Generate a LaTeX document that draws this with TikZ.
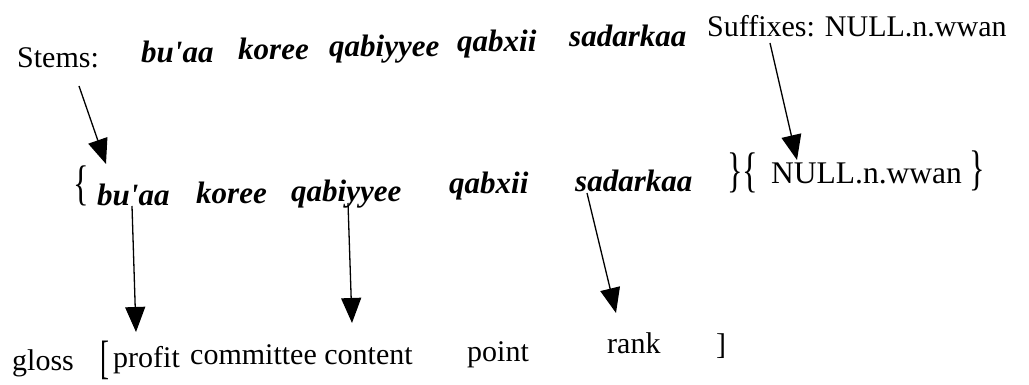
\documentclass[tikz,border=0pt]{standalone}
\usepackage{fontspec}
\setmainfont{Liberation Serif}
\usetikzlibrary{arrows.meta}
\newcommand{\apo}{\textquotesingle}
\newcommand{\tallbr}[1]{\scalebox{0.9}[1.35]{#1}}
\tikzset{
  rm/.style={anchor=base west, inner sep=0pt, font=\fontsize{30}{36}\selectfont},
  rmb/.style={anchor=base west, inner sep=0pt, font=\fontsize{31.5}{36}\selectfont},
  stem/.style={anchor=base west, inner sep=0pt, font=\fontsize{31}{36}\selectfont\bfseries\itshape},
  brk/.style={anchor=base west, inner sep=0pt, font=\fontsize{36}{42}\selectfont},
  arr/.style={line width=1.3pt, -{Triangle[length=25pt,width=20pt]}}
}
\begin{document}
\begin{tikzpicture}[x=1pt,y=-1pt]
\useasboundingbox (0,0) rectangle (1029,385);
% top row
\node[rm] (stems) at (17,68) {Stems:};
\node[stem] (t1) at (141,63) {bu\apo aa};
\node[stem] (t2) at (238,60) {koree};
\node[stem] (t3) at (329,57) {qabiyyee};
\node[stem] (t4) at (457,52) {qabxii};
\node[stem] (t5) at (569,47) {sadarkaa};
\node[rm] (suf) at (707,37) {Suffixes: NULL.n.wwan};
% middle row
\node[brk] (lb) at (73,200) {\tallbr{\{}};
\node[stem] (m1) at (97,206) {bu\apo aa};
\node[stem] (m2) at (196,204) {koree};
\node[stem] (m3) at (291,201) {qabiyyee};
\node[stem] (m4) at (449,194) {qabxii};
\node[stem] (m5) at (575,192) {sadarkaa};
\node[brk] (rb) at (727,187) {\tallbr{\}\{}};
\node[rmb] (null) at (771,184) {NULL.n.wwan};
\node[brk] (rb2) at (969,185) {\tallbr{\}}};
% bottom row
\node[rm] (gloss) at (12,370) {gloss};
\node[brk] (lsq) at (100,373) {\scalebox{0.75}[1.3]{[}};
\node[rm] (g1) at (113,367) {profit};
\node[rm] (g2) at (190,364) {committee content};
\node[rm] (g3) at (467,361) {point};
\node[rm] (g4) at (607,353) {rank};
\node[rm] (rsq) at (716,354) {]};
% arrow ends
\coordinate (a1s) at (79,86);   \coordinate (a1e) at (106,164);
\coordinate (a2s) at (770,43);  \coordinate (a2e) at (797,160);
\coordinate (a3s) at (132,206); \coordinate (a3e) at (136,332);
\coordinate (a4s) at (348,203); \coordinate (a4e) at (352,323);
\coordinate (a5s) at (587,193); \coordinate (a5e) at (616,313);
\draw[arr] (a1s) -- (a1e);
\draw[arr] (a2s) -- (a2e);
\draw[arr] (a3s) -- (a3e);
\draw[arr] (a4s) -- (a4e);
\draw[arr] (a5s) -- (a5e);
\end{tikzpicture}
\end{document}
